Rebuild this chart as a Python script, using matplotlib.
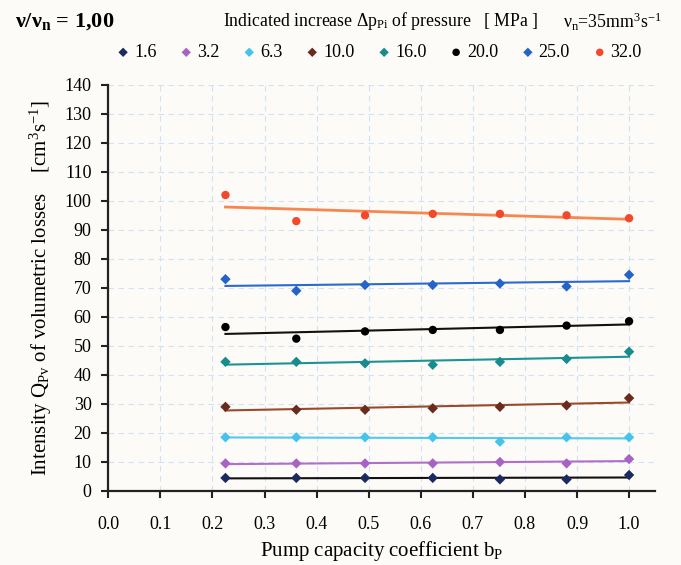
import numpy as np
import matplotlib
matplotlib.use('Agg')
import matplotlib.pyplot as plt

plt.rcParams['font.family'] = ['Liberation Serif', 'DejaVu Serif']
plt.rcParams['mathtext.fontset'] = 'custom'
plt.rcParams['mathtext.rm'] = 'Liberation Serif'
plt.rcParams['mathtext.it'] = 'Liberation Serif'
plt.rcParams['mathtext.bf'] = 'Liberation Serif:bold'

# pump capacity coefficient bP
bp = [0.225, 0.361, 0.493, 0.623, 0.752, 0.880, 1.0]

# indicated pressure increase [MPa]
pressures = ['1.6', '3.2', '6.3', '10.0', '16.0', '20.0', '25.0', '32.0']

q_16 = [4.5, 4.5, 4.5, 4.5, 4.0, 4.0, 5.5]
q_32 = [9.5, 9.5, 9.5, 9.5, 10.0, 9.5, 11.0]
q_63 = [18.5, 18.5, 18.5, 18.5, 17.0, 18.5, 18.5]
q_100 = [29.0, 28.0, 28.0, 28.5, 29.0, 29.5, 32.0]
q_160 = [44.5, 44.5, 44.0, 43.5, 44.5, 45.5, 48.0]
q_200 = [56.5, 52.5, 55.0, 55.5, 55.5, 57.0, 58.5]
q_250 = [73.0, 69.0, 71.0, 71.0, 71.5, 70.5, 74.5]
q_320 = [102.0, 93.0, 95.0, 95.5, 95.5, 95.0, 94.0]

series = [q_16, q_32, q_63, q_100, q_160, q_200, q_250, q_320]
marker_colors = ['#1c2b5e', '#a862c4', '#45c3ea', '#6a2a1c', '#178c8c', '#000000', '#2563c9', '#f2482c']
line_colors = ['#111111', '#b070c8', '#55c8ec', '#9a4a2a', '#1a9494', '#111111', '#2a6ad0', '#f7864f']
markers = ['D', 'D', 'D', 'D', 'D', 'o', 'D', 'o']

fig = plt.figure(figsize=(6.81, 5.65), dpi=100, facecolor='#fdfbf8')
ax = fig.add_axes([0.159, 0.131, 0.803, 0.719])
ax.set_facecolor('#fdfbf8')

handles = []
for p, q, mc, lc, m in zip(pressures, series, marker_colors, line_colors, markers):
    # linear trend line over the measured range
    k, b = np.polyfit(bp, q, 1)
    xs = np.array([bp[0], bp[-1]])
    ax.plot(xs, k * xs + b, color=lc, lw=1.5 if p != '32.0' else 2.0, zorder=2)
    h = ax.scatter(bp, q, marker=m, s=28 if m == 'D' else 36, color=mc, zorder=3,
                   label=p, edgecolors='none')
    handles.append(h)

ax.set_xlim(0, 1.05)
ax.set_ylim(0, 140)
ax.set_xticks(np.arange(0, 1.01, 0.1))
ax.set_xticklabels([f'{v:.1f}' for v in np.arange(0, 1.01, 0.1)])
ax.set_yticks(np.arange(0, 141, 10))
ax.grid(True, color='#cfe3f3', linestyle=(0, (5, 4)), lw=0.8)
ax.set_axisbelow(True)
for s in ['top', 'right']:
    ax.spines[s].set_visible(False)
for s in ['left', 'bottom']:
    ax.spines[s].set_linewidth(1.6)
    ax.spines[s].set_color('#222222')
ax.tick_params(direction='out', length=5, width=1.5, labelsize=13, color='#222222', pad=7)
ax.tick_params(axis='x', pad=13)

ax.set_xlabel('Pump capacity coefficient b$_{\\mathrm{P}}$', fontsize=15, labelpad=4)
ax.set_ylabel('Intensity Q$_{\\mathrm{Pv}}$ of volumetric losses    [cm$^{3}$s$^{-1}$]',
              fontsize=15, labelpad=8)

fig.text(0.022, 0.962, 'ν/ν$_{\\mathbf{n}}$ = 1,00', fontsize=16, fontweight='bold', va='center')
fig.text(0.327, 0.962, 'Indicated increase Δp$_{\\mathrm{Pi}}$ of pressure   [ MPa ]',
         fontsize=12.8, va='center')
fig.text(0.826, 0.962, 'ν$_{\\mathrm{n}}$=35mm$^{3}$s$^{-1}$', fontsize=12.8, va='center')

fig.legend(handles=handles, loc='center', bbox_to_anchor=(0.555, 0.907), ncol=8,
           frameon=False, fontsize=13, handletextpad=0.1, columnspacing=1.15,
           markerscale=0.9, handlelength=1.0)

fig.savefig('out.png', dpi=100, facecolor=fig.get_facecolor())
